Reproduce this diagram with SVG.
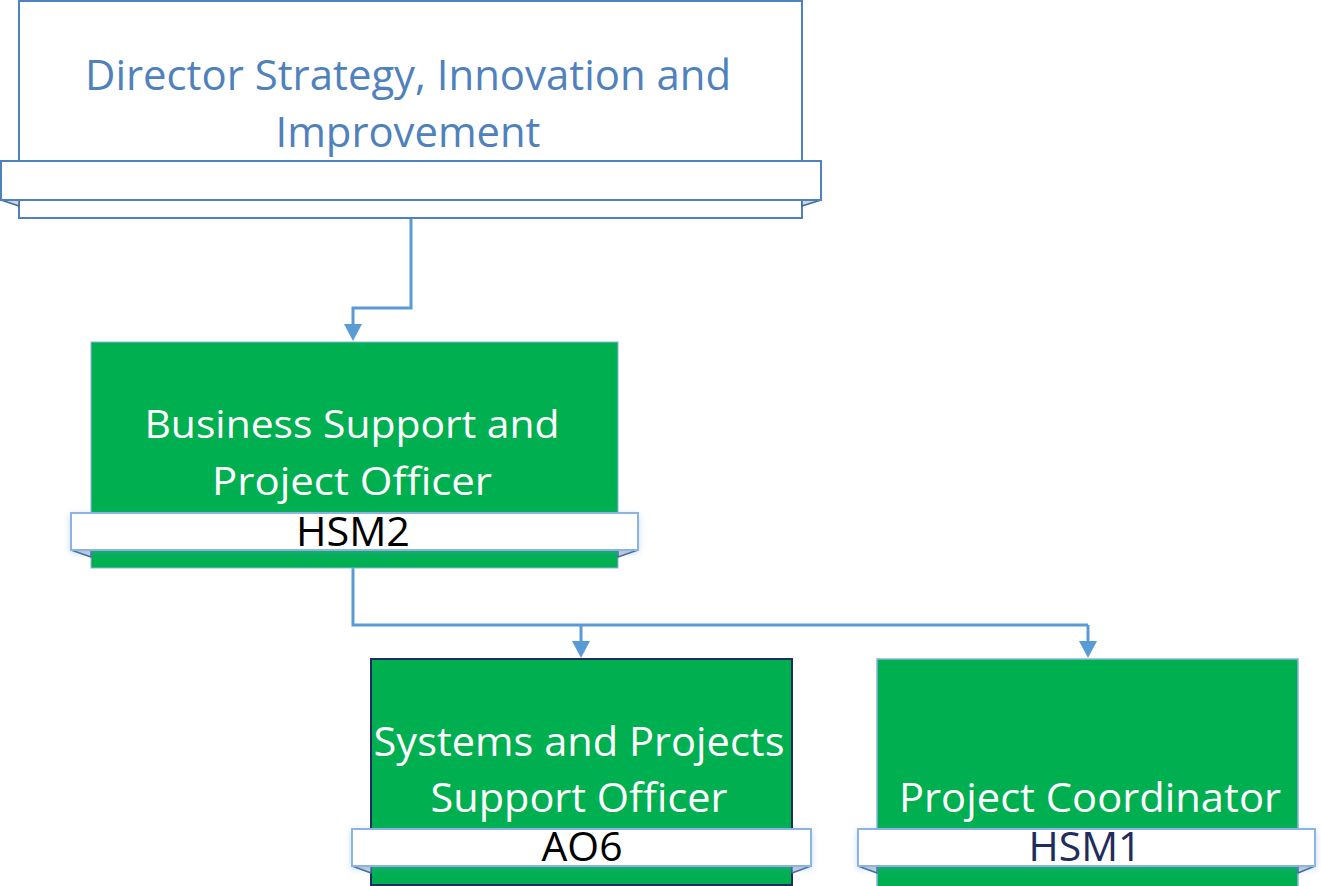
<svg xmlns="http://www.w3.org/2000/svg" width="1321" height="886" viewBox="0 0 1321 886">
  <defs>
    <style>
      .topbox { fill: #ffffff; stroke: #4F81BD; stroke-width: 2; }
      .green { fill: #00B050; }
      .ribbon { fill: #ffffff; stroke: #8DB3E2; stroke-width: 2; }
      .ribbon-top { fill: #ffffff; stroke: #4F81BD; stroke-width: 2; }
      .fold { fill: #D4D4D4; stroke: #3A6BA8; stroke-width: 1.5; stroke-linejoin: round; }
      .conn { fill: none; stroke: #5B9BD5; stroke-width: 3; }
      .t { font-family: "Open Sans", "Liberation Sans", sans-serif; text-anchor: middle; }
      .w { fill: #ffffff; font-size: 39px; }
      .w2 { fill: #ffffff; font-size: 41px; }
      .k { fill: #000000; font-size: 40px; }
    </style>
    <filter id="sh" x="-10%" y="-30%" width="120%" height="180%">
      <feDropShadow dx="0" dy="2" stdDeviation="3" flood-color="#5B9BD5" flood-opacity="0.35"/>
    </filter>
  </defs>

  <g id="connectors">
    <path class="conn" d="M411,218 V308 H353 V325"/>
    <path d="M344,324 L362,324 L353,341 Z" fill="#5B9BD5"/>
    <path class="conn" d="M353,568 V625 H1088"/>
    <path class="conn" d="M581,625 V642"/>
    <path d="M572,641 L590,641 L581,658 Z" fill="#5B9BD5"/>
    <path class="conn" d="M1088,625 V642"/>
    <path d="M1079,641 L1097,641 L1088,658 Z" fill="#5B9BD5"/>
  </g>

  <g id="director">
    <rect class="topbox" x="19" y="1" width="783" height="217"/>
    <path class="fold" d="M1,200 L19,200 L19,206 Z"/>
    <path class="fold" d="M821,200 L802,200 L802,206 Z"/>
    <rect class="ribbon-top" x="1" y="161" width="820" height="39"/>
    <text class="t" x="408" y="90" fill="#4F81BD" font-size="42" textLength="646" lengthAdjust="spacingAndGlyphs">Director Strategy, Innovation and</text>
    <text class="t" x="408" y="147" fill="#4F81BD" font-size="42" textLength="265" lengthAdjust="spacingAndGlyphs">Improvement</text>
  </g>

  <g id="business-support">
    <rect class="green" x="91" y="342" width="527" height="226" stroke="#8DB3E2" stroke-width="1"/>
    <path class="fold" d="M71,550 L91,550 L91,557 Z"/>
    <path class="fold" d="M638,550 L618,550 L618,557 Z"/>
    <rect class="ribbon" x="71" y="513" width="567" height="37" filter="url(#sh)"/>
    <text class="t w" x="352" y="438" textLength="415" lengthAdjust="spacingAndGlyphs">Business Support and</text>
    <text class="t w" x="352" y="495" textLength="280" lengthAdjust="spacingAndGlyphs">Project Officer</text>
    <text class="t k" x="353" y="546" textLength="114" lengthAdjust="spacingAndGlyphs">HSM2</text>
  </g>

  <g id="systems-projects">
    <rect class="green" x="371" y="659" width="421" height="226" stroke="#1F2D5C" stroke-width="2"/>
    <path class="fold" d="M352,866 L371,866 L371,873 Z"/>
    <path class="fold" d="M811,866 L792,866 L792,873 Z"/>
    <rect class="ribbon" x="352" y="829" width="459" height="37" filter="url(#sh)"/>
    <text class="t w2" x="579" y="756" textLength="411" lengthAdjust="spacingAndGlyphs">Systems and Projects</text>
    <text class="t w2" x="579" y="812" textLength="297" lengthAdjust="spacingAndGlyphs">Support Officer</text>
    <text class="t k" x="582" y="861" textLength="81" lengthAdjust="spacingAndGlyphs">AO6</text>
  </g>

  <g id="project-coordinator">
    <rect class="green" x="877" y="659" width="421" height="228" stroke="#8DB3E2" stroke-width="1.5"/>
    <path class="fold" d="M858,866 L877,866 L877,873 Z"/>
    <path class="fold" d="M1315,866 L1298,866 L1298,873 Z"/>
    <rect class="ribbon" x="858" y="829" width="457" height="37" filter="url(#sh)"/>
    <text class="t w2" x="1090" y="812" textLength="382" lengthAdjust="spacingAndGlyphs">Project Coordinator</text>
    <text class="t" x="1085" y="861" fill="#1F2D5C" font-size="40" textLength="113" lengthAdjust="spacingAndGlyphs">HSM1</text>
  </g>
</svg>
